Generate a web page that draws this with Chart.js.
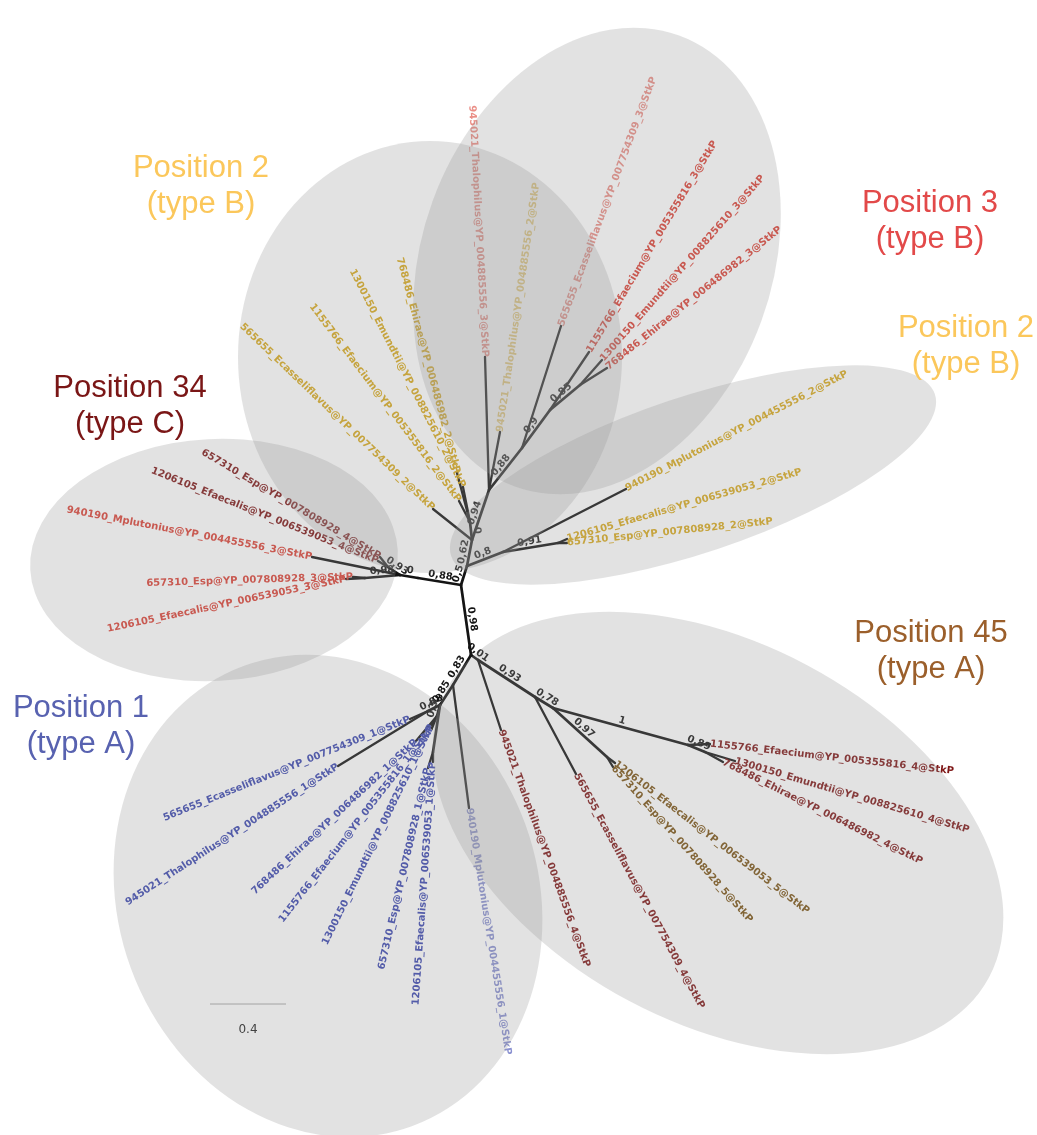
<!DOCTYPE html>
<html>
<head>
<meta charset="utf-8">
<script src="https://cdn.jsdelivr.net/npm/chart.js@4.4.1/dist/chart.umd.min.js"></script>
<style>
html,body{margin:0;padding:0;background:#fff;}
canvas{display:block;}
</style>
</head>
<body>
<canvas id="tree" width="1037" height="1135"></canvas>
<script>
// ---------- DATA: internal nodes of the unrooted tree (layout coordinates) ----------
const nodeIds     = ['A','B','C0','C','D','E','F','G','H','I','Y2','M','N','O','P','R','S','T','U','V1','V2','W','Q','Q2','Q3','Q4'];
const nodeParents = [null,'A','A','C0','C','C','A','F','G','F','I','I','M','N','O','B','R','S','T','T','V1','B','W','Q','Q','Q'];
const nodeX       = [461,471,418,400,388,365,467,503,558,472,470,489,522,550,580,478,535,553,607,688,705,453,440,428,437,433];
const nodeY       = [585,655,578,575,567,578,566,552,543,540,522,490,448,410,385,660,697,708,757,745,752,685,705,711,716,752];
const nodeSupport = ['','0,98','0,88','0','0,93','0,98','0,5','0,8','0,91','0,62','0','0,94','0,88','0,9','0,85','0,01','0,93','0,78','0,97','1','0,89','0,83','0,85','0,88','0,5','1'];

// ---------- DATA: leaves ----------
const leafNames = [
 '940190_Mplutonius@YP_004455556_3@StkP',
 '657310_Esp@YP_007808928_4@StkP',
 '1206105_Efaecalis@YP_006539053_4@StkP',
 '657310_Esp@YP_007808928_3@StkP',
 '1206105_Efaecalis@YP_006539053_3@StkP',
 '945021_Thalophilus@YP_004885556_3@StkP',
 '945021_Thalophilus@YP_004885556_2@StkP',
 '565655_Ecasseliflavus@YP_007754309_3@StkP',
 '1155766_Efaecium@YP_005355816_3@StkP',
 '1300150_Emundtii@YP_008825610_3@StkP',
 '768486_Ehirae@YP_006486982_3@StkP',
 '565655_Ecasseliflavus@YP_007754309_2@StkP',
 '1155766_Efaecium@YP_005355816_2@StkP',
 '1300150_Emundtii@YP_008825610_2@StkP',
 '768486_Ehirae@YP_006486982_2@StkP',
 '940190_Mplutonius@YP_004455556_2@StkP',
 '1206105_Efaecalis@YP_006539053_2@StkP',
 '657310_Esp@YP_007808928_2@StkP',
 '940190_Mplutonius@YP_004455556_1@StkP',
 '565655_Ecasseliflavus@YP_007754309_1@StkP',
 '945021_Thalophilus@YP_004885556_1@StkP',
 '768486_Ehirae@YP_006486982_1@StkP',
 '1155766_Efaecium@YP_005355816_1@StkP',
 '1300150_Emundtii@YP_008825610_1@StkP',
 '657310_Esp@YP_007808928_1@StkP',
 '1206105_Efaecalis@YP_006539053_1@StkP',
 '945021_Thalophilus@YP_004885556_4@StkP',
 '565655_Ecasseliflavus@YP_007754309_4@StkP',
 '1206105_Efaecalis@YP_006539053_5@StkP',
 '657310_Esp@YP_007808928_5@StkP',
 '1155766_Efaecium@YP_005355816_4@StkP',
 '1300150_Emundtii@YP_008825610_4@StkP',
 '768486_Ehirae@YP_006486982_4@StkP'
];
const leafParents  = ['C','D','D','E','E','M','M','N','O','P','P','I','Y2','Y2','Y2','G','H','H','W','Q2','Q2','Q3','Q3','Q3','Q4','Q4','R','S','U','U','V1','V2','V2'];
const leafX        = [312,380,378,353,346,485,500,561,589,602,607,433,459,463,457,626,567,567,469,410,338,416,432,432,428,433,501,576,615,613,710,735,723];
const leafY        = [557,557,561,577,579,357,432,326,352,360,368,509,501,487,473,489,539,543,808,719,766,741,728,725,768,762,730,774,763,767,744,761,762];
const leafAngle    = [190.9,210.6,201.8,178.2,168.1,267,-81.6,-69.5,-59,-48.7,-38.8,223.8,233,242.9,255,-27.6,-16,-6,81,158,147,137,128,116,103,94,70,61.7,37.7,48.2,6.4,16.5,26.7];
const leafPosition = [3,4,4,3,3,3,2,3,3,3,3,2,2,2,2,2,2,2,1,1,1,1,1,1,1,1,4,4,5,5,4,4,4];

// ---------- DATA: groups ----------
const groupTitle    = ['Position 2','Position 3','Position 2','Position 34','Position 1','Position 45'];
const groupSubtitle = ['(type B)','(type B)','(type B)','(type C)','(type A)','(type A)'];

// scale bar value (branch length units)
const scaleBarValue = 0.4;
const scaleBarLabel = '0.4';

// ---------- LAYOUT / STYLE (not data) ----------
const unitsPerLength = 190;
const scaleBarAt = {x:210, y:1004};
const positionColors = {1:'#3a46b0', 2:'#d8a91c', 3:'#dc4236', 4:'#7e1616', 5:'#7a5212'};
const paleLeaves = new Set([5,6,7,18]);
const titleColors = ['#fbc75b','#e24949','#fbc75b','#7a1616','#5862b0','#9b5f2b'];
const titleAt = [[201,168],[930,203],[966,328],[130,388],[81,708],[931,633]];
// cx, cy, rx, ry, rotation(deg)
const ellipseAt = [
  [430,357,192,216,0],
  [597,261,175,240,20],
  [693,475,255,78,-18.5],
  [214,560,184,121,-3],
  [328,896,210,245,-20],
  [718,833,307,190,28]
];

const pos = {};
nodeIds.forEach((id,i)=>{ pos[id] = {x:nodeX[i], y:nodeY[i]}; });

function branch(a,b,w){
  return {data:[{x:a.x,y:a.y},{x:b.x,y:b.y}], showLine:true, borderColor:'#141414', borderWidth:w||2.3,
          pointRadius:0, pointHoverRadius:0, fill:false, tension:0, borderCapStyle:'round'};
}
const datasets = [];
nodeIds.forEach((id,i)=>{ const p = nodeParents[i]; if(!p) return; datasets.push(branch(pos[p], pos[id], 2.7)); });
leafNames.forEach((n,i)=>{ datasets.push(branch(pos[leafParents[i]], {x:leafX[i], y:leafY[i]}, 2.3)); });
datasets.push({data:[{x:scaleBarAt.x,y:scaleBarAt.y},{x:scaleBarAt.x+scaleBarValue*unitsPerLength,y:scaleBarAt.y}],
  showLine:true, borderColor:'#a8a8a8', borderWidth:1, pointRadius:0, fill:false});

const decor = {
  id:'decor',
  beforeDraw(chart){
    const c = chart.ctx; c.save(); c.fillStyle='#ffffff'; c.fillRect(0,0,chart.width,chart.height); c.restore();
  },
  afterDatasetsDraw(chart){
    const c = chart.ctx, xs = chart.scales.x, ys = chart.scales.y;
    const X = v => xs.getPixelForValue(v), Y = v => ys.getPixelForValue(v);
    const kx = Math.abs(X(1)-X(0)), ky = Math.abs(Y(1)-Y(0));
    // support values
    c.save();
    c.font = 'bold 10px "DejaVu Sans"'; c.fillStyle = '#161616'; c.textAlign='center'; c.textBaseline='middle';
    nodeIds.forEach((id,i)=>{
      const s = nodeSupport[i], p = nodeParents[i]; if(!s || !p) return;
      const x1 = X(pos[p].x), y1 = Y(pos[p].y), x2 = X(nodeX[i]), y2 = Y(nodeY[i]);
      let a = Math.atan2(y2-y1, x2-x1); if(Math.cos(a) < 0) a += Math.PI;
      const mx = (x1+x2)/2 + Math.sin(a)*6, my = (y1+y2)/2 - Math.cos(a)*6;
      c.save(); c.translate(mx,my); c.rotate(a); c.fillText(s,0,0); c.restore();
    });
    c.restore();
    // leaf labels
    c.save();
    c.font = 'bold 10px "DejaVu Sans"'; c.textBaseline='middle';
    leafNames.forEach((n,i)=>{
      const x = X(leafX[i]), y = Y(leafY[i]);
      let a = leafAngle[i]*Math.PI/180, align='left';
      if(Math.cos(a) < 0){ a += Math.PI; align='right'; }
      c.save(); c.translate(x,y); c.rotate(a); c.textAlign=align;
      c.globalAlpha = paleLeaves.has(i) ? 0.6 : 1;
      c.fillStyle = positionColors[leafPosition[i]]; c.fillText(n,0,0); c.restore();
    });
    c.restore();
    // scale label
    c.save(); c.font='12px "DejaVu Sans"'; c.fillStyle='#222'; c.textAlign='center'; c.textBaseline='middle';
    c.fillText(scaleBarLabel, X(scaleBarAt.x+scaleBarValue*unitsPerLength/2), Y(scaleBarAt.y+26));
    c.restore();
    // group ellipses (translucent overlay)
    c.save(); c.fillStyle='rgba(150,150,150,0.28)';
    ellipseAt.forEach(e=>{
      c.beginPath(); c.ellipse(X(e[0]), Y(e[1]), e[2]*kx, e[3]*ky, e[4]*Math.PI/180, 0, Math.PI*2); c.fill();
    });
    c.restore();
    // group titles
    c.save(); c.font='31px "Liberation Sans"'; c.textAlign='center'; c.textBaseline='middle';
    groupTitle.forEach((t,i)=>{
      c.fillStyle = titleColors[i];
      c.fillText(t, X(titleAt[i][0]), Y(titleAt[i][1]));
      c.fillText(groupSubtitle[i], X(titleAt[i][0]), Y(titleAt[i][1]+36));
    });
    c.restore();
  }
};

new Chart(document.getElementById('tree').getContext('2d'), {
  type:'scatter',
  data:{datasets},
  options:{
    responsive:false, animation:false, devicePixelRatio:1, events:[],
    layout:{padding:0, autoPadding:false},
    plugins:{legend:{display:false}, tooltip:{enabled:false}, title:{display:false}},
    scales:{
      x:{type:'linear', min:0, max:1037, display:false},
      y:{type:'linear', min:0, max:1135, reverse:true, display:false}
    }
  },
  plugins:[decor]
});
</script>
</body>
</html>
